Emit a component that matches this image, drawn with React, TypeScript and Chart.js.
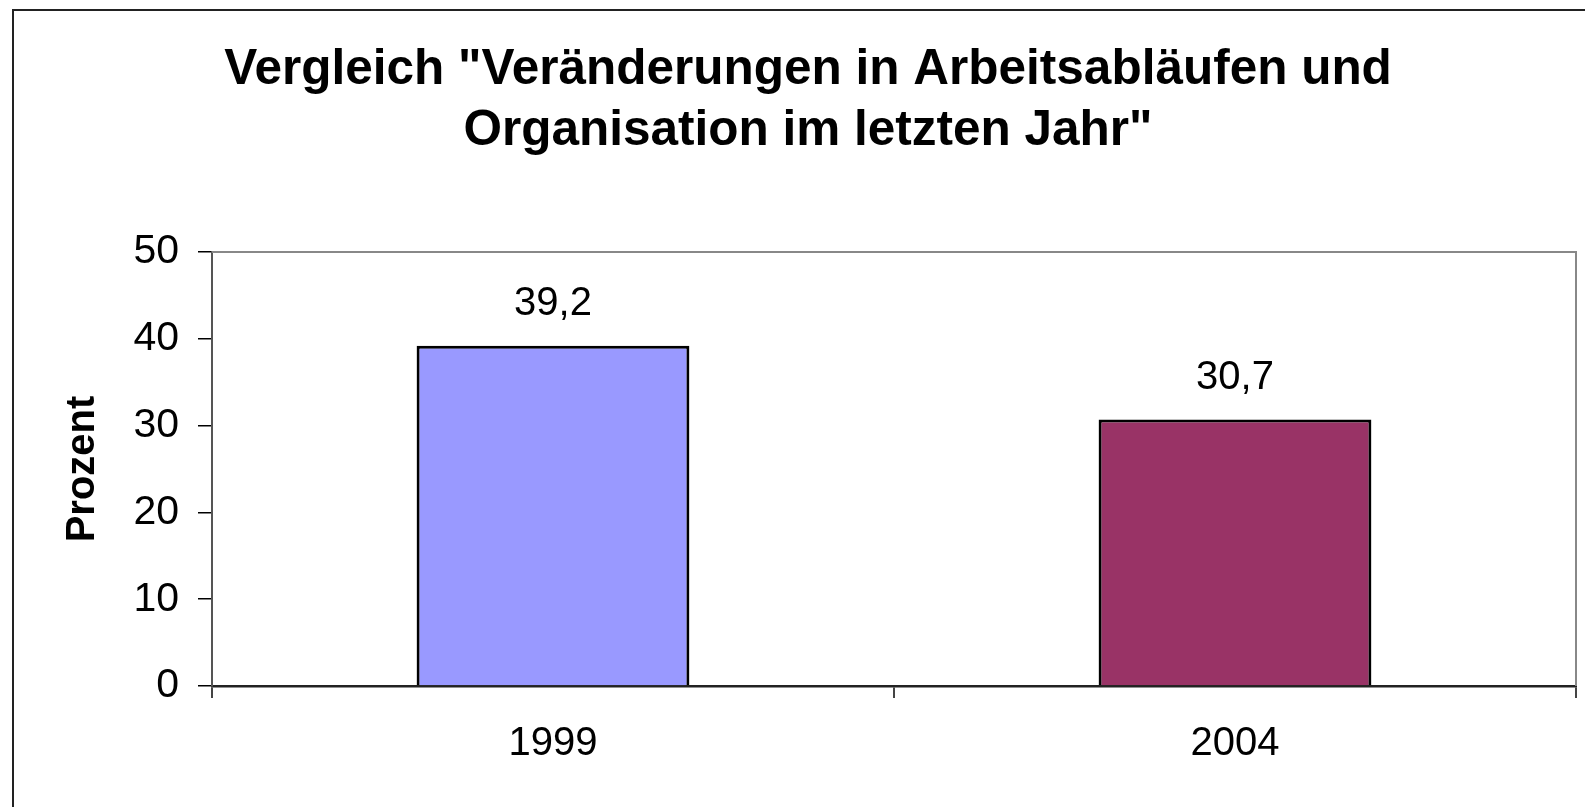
import React, { useEffect, useRef } from "react";
import { Chart, registerables } from "chart.js";

Chart.register(...registerables);

const TITLE_LINES = ['Vergleich "Veränderungen in Arbeitsabläufen und', 'Organisation im letzten Jahr"'];
const CATEGORIES = ["1999", "2004"];
const VALUES = [39.2, 30.7];
const BAR_COLORS = ["#9999FF", "#993366"];
const Y_TITLE = "Prozent";
const Y_MIN = 0;
const Y_MAX = 50;
const Y_STEP = 10;

const FONT = "'Liberation Sans', Arial, Helvetica, sans-serif";

const framePlugin = {
  id: "frame",
  beforeDraw(chart: any) {
    const { ctx, width, height } = chart;
    ctx.save();
    ctx.fillStyle = "#ffffff";
    ctx.fillRect(0, 0, width, height);
    ctx.strokeStyle = "#222222";
    ctx.lineWidth = 2;
    ctx.beginPath();
    ctx.moveTo(13, height);
    ctx.lineTo(13, 10);
    ctx.lineTo(width, 10);
    ctx.stroke();
    ctx.restore();
  },
  beforeDatasetsDraw(chart: any) {
    const { ctx, chartArea } = chart;
    ctx.save();
    ctx.strokeStyle = "#888888";
    ctx.lineWidth = 2;
    ctx.beginPath();
    ctx.moveTo(chartArea.left, chartArea.top);
    ctx.lineTo(chartArea.right, chartArea.top);
    ctx.lineTo(chartArea.right, chartArea.bottom);
    ctx.stroke();
    ctx.restore();
  },
};

const valueLabelPlugin = {
  id: "valueLabels",
  afterDatasetsDraw(chart: any) {
    const { ctx } = chart;
    const meta = chart.getDatasetMeta(0);
    ctx.save();
    ctx.font = `40px ${FONT}`;
    ctx.fillStyle = "#000000";
    ctx.textAlign = "center";
    ctx.textBaseline = "middle";
    meta.data.forEach((bar: any, i: number) => {
      const v = chart.data.datasets[0].data[i] as number;
      ctx.fillText(v.toFixed(1).replace(".", ","), bar.x, bar.y - 42);
    });
    ctx.restore();
  },
};

export default function App() {
  const canvasRef = useRef<HTMLCanvasElement | null>(null);

  useEffect(() => {
    if (!canvasRef.current) return;
    const chart = new Chart(canvasRef.current, {
      type: "bar",
      data: {
        labels: CATEGORIES,
        datasets: [
          {
            data: VALUES,
            backgroundColor: BAR_COLORS,
            borderColor: "#000000",
            borderWidth: 3,
            barPercentage: 0.4,
            categoryPercentage: 1,
          },
        ],
      },
      options: {
        animation: false,
        responsive: false,
        devicePixelRatio: 1,
        layout: { padding: { left: 40, right: 9, top: 0, bottom: 0 } },
        plugins: {
          legend: { display: false },
          tooltip: { enabled: false },
          title: {
            display: true,
            text: TITLE_LINES,
            color: "#000000",
            font: { family: FONT, size: 49.5, weight: "bold", lineHeight: 1.232 },
            padding: { top: 40, bottom: 90 },
          },
        },
        scales: {
          x: {
            type: "category",
            afterFit: (s: any) => {
              s.height = 121;
            },
            grid: {
              display: true,
              drawOnChartArea: false,
              drawTicks: true,
              tickLength: 12,
              color: "#444444",
              lineWidth: 2,
              offset: true,
            },
            border: { display: true, color: "#222222", width: 2.5 },
            ticks: {
              color: "#000000",
              font: { family: FONT, size: 40 },
              padding: 22,
              maxRotation: 0,
            },
          },
          y: {
            type: "linear",
            min: Y_MIN,
            max: Y_MAX,
            afterFit: (s: any) => {
              s.width = 172;
            },
            grid: {
              display: true,
              drawOnChartArea: false,
              drawTicks: true,
              tickLength: 14,
              color: "#000000",
              lineWidth: 1.5,
            },
            border: { display: true, color: "#555555", width: 2 },
            ticks: {
              stepSize: Y_STEP,
              color: "#000000",
              font: { family: FONT, size: 41 },
              padding: 19,
            },
            title: {
              display: true,
              text: Y_TITLE,
              color: "#000000",
              font: { family: FONT, size: 40, weight: "bold", lineHeight: 1.2 },
              padding: { top: 19, bottom: 0 },
            },
          },
        },
      },
      plugins: [framePlugin, valueLabelPlugin],
    });
    return () => chart.destroy();
  }, []);

  return (
    <div style={{ position: "absolute", left: 0, top: 0, width: 1585, height: 807, background: "#fff" }}>
      <canvas ref={canvasRef} width={1585} height={807} style={{ display: "block" }} />
    </div>
  );
}
